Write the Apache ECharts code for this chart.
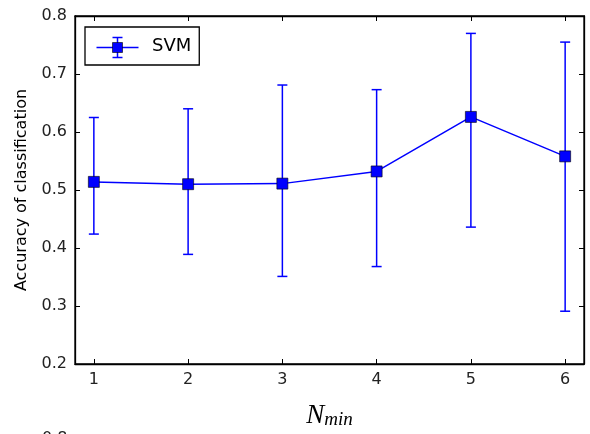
<!DOCTYPE html>
<html>
<head>
<meta charset="utf-8">
<script src="https://cdn.jsdelivr.net/npm/echarts@6/dist/echarts.min.js"></script>
<style>html,body{margin:0;padding:0;background:#fff;}#c{width:590px;height:434px;}</style>
</head>
<body>
<div id="c"></div>
<script>
var nMin = [1, 2, 3, 4, 5, 6];
var accMean = [0.514, 0.510, 0.511, 0.532, 0.626, 0.558];
var accLow  = [0.424, 0.389, 0.351, 0.368, 0.436, 0.291];
var accHigh = [0.625, 0.640, 0.681, 0.673, 0.770, 0.755];
var yTicks = [0.2, 0.3, 0.4, 0.5, 0.6, 0.7, 0.8];
var seriesName = 'SVM';

var BLUE = '#0000ff';
var tickFont = 'DejaVu Sans';

var lineData = nMin.map(function (x, i) { return [x, accMean[i]]; });
var errData = nMin.map(function (x, i) { return [x, accLow[i], accHigh[i]]; });

var chart = echarts.init(document.getElementById('c'), null, {renderer: 'canvas'});
var baseAxisLine = {show: true, lineStyle: {color: '#000', width: 1.3}};
chart.setOption({
  animation: false,
  backgroundColor: '#fff',
  grid: {left: 75, right: 6, top: 16, bottom: 69, show: true, borderColor: '#000', borderWidth: 1.3, backgroundColor: 'transparent'},
  legend: {
    left: 85, top: 27,
    data: [{name: seriesName, icon: 'rect', itemStyle: {opacity: 0}}],
    itemWidth: 52, itemHeight: 18,
    borderColor: '#000', borderWidth: 1.3, borderRadius: 0,
    padding: [9, 8, 9, 9],
    textStyle: {fontFamily: tickFont, fontSize: 18, color: '#000'},
    selectedMode: false
  },
  xAxis: [{
    type: 'value', min: 0.8, max: 6.2,
    axisLine: baseAxisLine,
    axisTick: {show: true, inside: true, length: 5, customValues: nMin, lineStyle: {color: '#000', width: 1}},
    axisLabel: {customValues: nMin, fontFamily: tickFont, fontSize: 16, color: '#222', margin: 8},
    splitLine: {show: false},
    name: '{n|N}{s|min}', nameLocation: 'middle', nameGap: 36,
    nameTextStyle: {rich: {
      n: {fontFamily: 'Liberation Serif', fontStyle: 'italic', fontSize: 27, color: '#000', verticalAlign: 'bottom'},
      s: {fontFamily: 'Liberation Serif', fontStyle: 'italic', fontSize: 19, color: '#000', padding: [10, 0, 0, 0], verticalAlign: 'bottom'}
    }}
  }, {
    type: 'value', min: 0.8, max: 6.2, position: 'top',
    axisLine: baseAxisLine,
    axisTick: {show: true, inside: true, length: 5, customValues: nMin, lineStyle: {color: '#000', width: 1}},
    axisLabel: {show: false},
    splitLine: {show: false}
  }],
  yAxis: [{
    type: 'value', min: 0.2, max: 0.8, interval: 0.1,
    axisLine: baseAxisLine,
    axisTick: {show: true, inside: true, length: 5, lineStyle: {color: '#000', width: 1}},
    axisLabel: {fontFamily: tickFont, fontSize: 16, color: '#222', margin: 8, formatter: function (v) { return v.toFixed(1); }},
    splitLine: {show: false},
    name: 'Accuracy of classification', nameLocation: 'middle', nameGap: 45,
    nameTextStyle: {fontFamily: tickFont, fontSize: 16, color: '#000'}
  }, {
    type: 'value', min: 0.2, max: 0.8, interval: 0.1, position: 'right',
    axisLine: baseAxisLine,
    axisTick: {show: true, inside: true, length: 5, lineStyle: {color: '#000', width: 1}},
    axisLabel: {show: false},
    splitLine: {show: false}
  }],
  series: [{
    type: 'custom',
    name: 'err',
    xAxisIndex: 0, yAxisIndex: 0,
    data: errData,
    z: 2,
    renderItem: function (params, api) {
      var x = api.value(0);
      var lo = api.coord([x, api.value(1)]);
      var hi = api.coord([x, api.value(2)]);
      var cw = 5;
      var st = {stroke: BLUE, lineWidth: 1.5};
      return {type: 'group', children: [
        {type: 'line', shape: {x1: lo[0], y1: lo[1], x2: hi[0], y2: hi[1]}, style: st},
        {type: 'line', shape: {x1: lo[0] - cw, y1: lo[1], x2: lo[0] + cw, y2: lo[1]}, style: st},
        {type: 'line', shape: {x1: hi[0] - cw, y1: hi[1], x2: hi[0] + cw, y2: hi[1]}, style: st}
      ]};
    }
  }, {
    type: 'line',
    name: seriesName,
    data: lineData,
    z: 3,
    symbol: 'rect', symbolSize: 11,
    lineStyle: {color: BLUE, width: 1.5},
    itemStyle: {color: BLUE, borderColor: '#000', borderWidth: 0.6}
  }],
  graphic: [{
    type: 'group', left: 94, top: 35, silent: true, z: 100,
    children: [
      {type: 'line', shape: {x1: 0, y1: 10, x2: 42, y2: 10}, style: {stroke: BLUE, lineWidth: 1.5}},
      {type: 'line', shape: {x1: 21, y1: 0, x2: 21, y2: 20}, style: {stroke: BLUE, lineWidth: 1.5}},
      {type: 'line', shape: {x1: 16, y1: 0, x2: 26, y2: 0}, style: {stroke: BLUE, lineWidth: 1.5}},
      {type: 'line', shape: {x1: 16, y1: 20, x2: 26, y2: 20}, style: {stroke: BLUE, lineWidth: 1.5}},
      {type: 'rect', shape: {x: 16, y: 5, width: 10, height: 10}, style: {fill: BLUE, stroke: '#000', lineWidth: 0.6}}
    ]
  }, {
    type: 'text', left: 42, top: 431, silent: true,
    style: {text: '0.8', font: '16px "DejaVu Sans"', fill: '#222'}
  }]
});
</script>
</body>
</html>
